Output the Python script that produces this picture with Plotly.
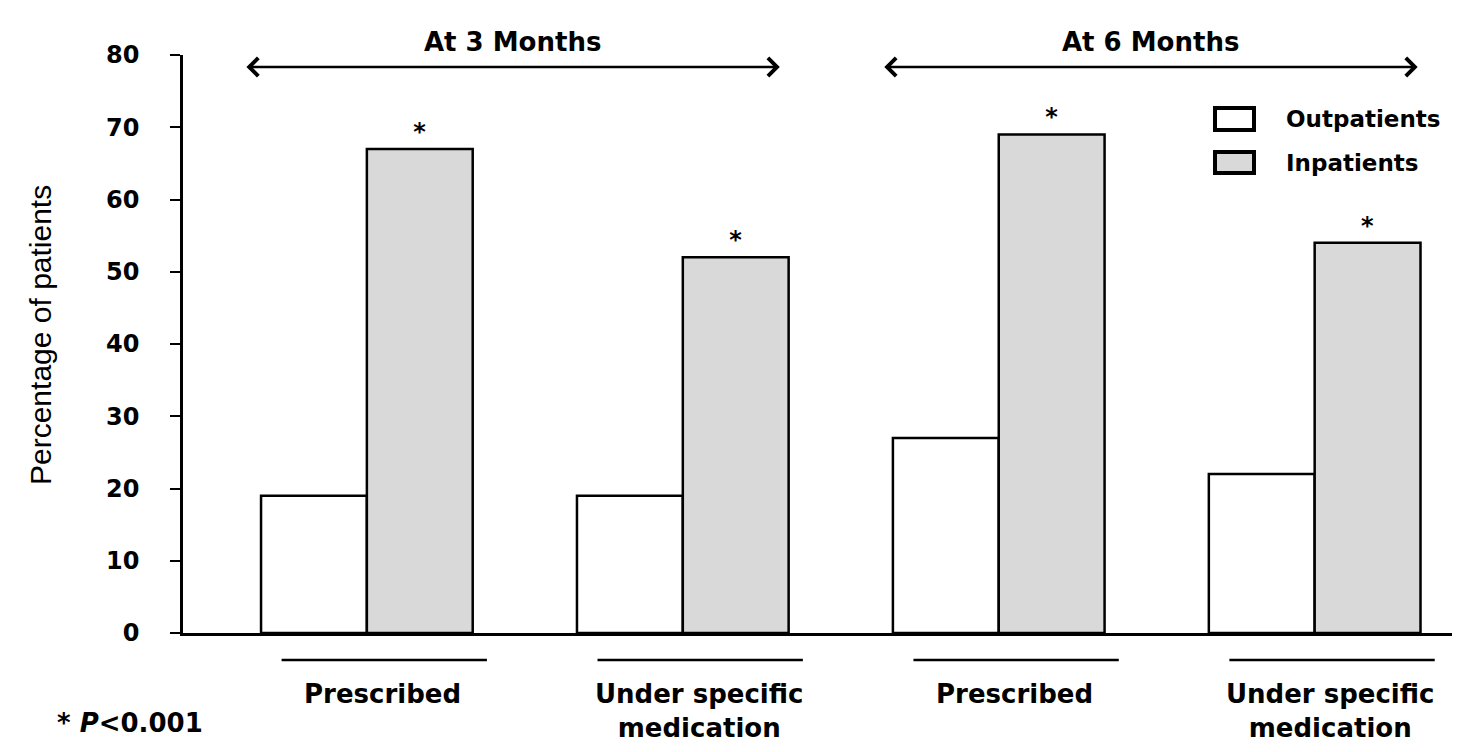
import plotly.graph_objects as go

categories = ["Prescribed (3M)", "Under specific medication (3M)", "Prescribed (6M)", "Under specific medication (6M)"]
cat_labels = ["Prescribed", "Under specific<br>medication", "Prescribed", "Under specific<br>medication"]
outpatients = [19, 19, 27, 22]
inpatients = [67, 52, 69, 54]
sig = ["*", "*", "*", "*"]
period_labels = ["At 3 Months", "At 6 Months"]
series_names = ["Outpatients", "Inpatients"]
series_colors = ["white", "#d9d9d9"]
y_ticks = [0, 10, 20, 30, 40, 50, 60, 70, 80]

BOLD = "DejaVu Sans"
xpos = list(range(len(categories)))

fig = go.Figure()
fig.add_trace(go.Bar(
    x=xpos, y=outpatients, name=series_names[0],
    marker=dict(color=series_colors[0], line=dict(color="black", width=2.5)),
))
fig.add_trace(go.Bar(
    x=xpos, y=inpatients, name=series_names[1],
    marker=dict(color=series_colors[1], line=dict(color="black", width=2.5)),
    text=sig, textposition="outside", cliponaxis=False,
    textfont=dict(family=BOLD, size=24, color="black", weight="bold"),
))

fig.update_layout(
    width=1452, height=736,
    margin=dict(l=175, r=0, t=47, b=111),
    plot_bgcolor="white", paper_bgcolor="white",
    barmode="group", bargap=0.33, bargroupgap=0,
    showlegend=False,
    xaxis=dict(range=[-0.582, 3.46], showticklabels=False, ticks="",
               showline=True, linecolor="black", linewidth=2.5, showgrid=False, zeroline=False),
    yaxis=dict(range=[0, 80], tickvals=y_ticks, ticks="outside", ticklen=10, tickwidth=2,
               tickcolor="black", showline=True, linecolor="black", linewidth=2.5,
               showgrid=False, zeroline=False, ticklabelstandoff=26,
               tickfont=dict(family=BOLD, size=24, color="black", weight="bold")),
)

def px_x(px):
    return (px - 183) / 1277

def px_y(py):
    return (633 - py) / 578

# y-axis title
fig.add_annotation(x=px_x(40), y=px_y(335), xref="paper", yref="paper",
                   text="Percentage of patients", textangle=-90, showarrow=False,
                   xanchor="center", yanchor="middle",
                   font=dict(family="Liberation Sans", size=30, color="black"))

# custom legend
legend_boxes = [(108, 130), (152, 173)]
for name, col, (ya, yb) in zip(series_names, series_colors, legend_boxes):
    fig.add_shape(type="rect", xref="paper", yref="paper",
                  x0=px_x(1215), x1=px_x(1254), y0=px_y(yb), y1=px_y(ya),
                  fillcolor=col, line=dict(color="black", width=4))
    fig.add_annotation(x=px_x(1284), y=px_y((ya + yb) / 2), xref="paper", yref="paper",
                       text=name, showarrow=False, xanchor="left", yanchor="middle",
                       font=dict(family=BOLD, size=23, color="black", weight="bold"))

# category underlines and labels
for i, lab in enumerate(cat_labels):
    fig.add_shape(type="line", xref="x", yref="paper",
                  x0=i - 0.27, x1=i + 0.38, y0=px_y(660), y1=px_y(660),
                  line=dict(color="black", width=2.5))
    fig.add_annotation(x=i + 0.05, y=px_y(677), xref="x", yref="paper", text=lab,
                       showarrow=False, yanchor="top",
                       font=dict(family=BOLD, size=26, color="black", weight="bold"))

# period arrows and labels
arrow_spans = [(-0.386, 1.307), (1.633, 3.326)]
for (a, b), lab in zip(arrow_spans, period_labels):
    fig.add_annotation(x=b, y=px_y(67), ax=a, ay=0, xref="x", yref="paper",
                       axref="x", ayref="pixel", text="", showarrow=True,
                       arrowhead=4, startarrowhead=4, arrowside="end+start",
                       arrowsize=1.4, startarrowsize=1.4, arrowwidth=2.5, arrowcolor="black")
    fig.add_annotation(x=(a + b) / 2, y=px_y(25), xref="x", yref="paper", text=lab,
                       showarrow=False,
                       font=dict(family=BOLD, size=26, color="black", weight="bold"))

fig.add_annotation(x=px_x(55), y=px_y(740), xref="paper", yref="paper",
                   text="* <i>P</i><0.001", showarrow=False, xanchor="left",
                   font=dict(family=BOLD, size=26, color="black", weight="bold"))

fig.write_html("out.html")
